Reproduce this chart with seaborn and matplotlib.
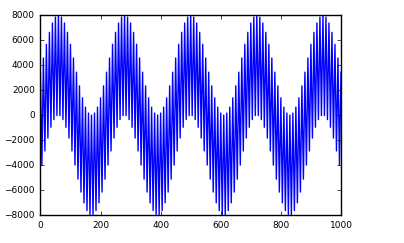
import matplotlib
matplotlib.use("Agg")
import matplotlib.pyplot as plt
import seaborn as sns
import numpy as np
import pandas as pd

# Peak (top) value of each fast cycle, read at x = 0, 10, 20, ..., 1000
tops = [
    3431, 4569, 5662, 6620, 7365, 7838,
    8000, 7838, 7365, 6620, 5662, 4569, 3431, 2338, 1380, 635, 162,
    0, 162, 635, 1380, 2338, 3431, 4569, 5662, 6620, 7365, 7838,
    8000, 7838, 7365, 6620, 5662, 4569, 3431, 2338, 1380, 635, 162,
    0, 162, 635, 1380, 2338, 3431, 4569, 5662, 6620, 7365, 7838,
    8000, 7838, 7365, 6620, 5662, 4569, 3431, 2338, 1380, 635, 162,
    0, 162, 635, 1380, 2338, 3431, 4569, 5662, 6620, 7365, 7838,
    8000, 7838, 7365, 6620, 5662, 4569, 3431, 2338, 1380, 635, 162,
    0, 162, 635, 1380, 2338, 3431, 4569, 5662, 6620, 7365, 7838,
    8000, 7838, 7365, 6620, 5662, 4569, 3431,
]

# Trough (bottom) value of each fast cycle, read at x = 5, 15, ..., 995
bottoms = [
    -4000, -2873, -1838, -977, -362, -41,
    -41, -362, -977, -1838, -2873, -4000, -5127, -6162, -7023, -7638, -7959,
    -7959, -7638, -7023, -6162, -5127, -4000, -2873, -1838, -977, -362, -41,
    -41, -362, -977, -1838, -2873, -4000, -5127, -6162, -7023, -7638, -7959,
    -7959, -7638, -7023, -6162, -5127, -4000, -2873, -1838, -977, -362, -41,
    -41, -362, -977, -1838, -2873, -4000, -5127, -6162, -7023, -7638, -7959,
    -7959, -7638, -7023, -6162, -5127, -4000, -2873, -1838, -977, -362, -41,
    -41, -362, -977, -1838, -2873, -4000, -5127, -6162, -7023, -7638, -7959,
    -7959, -7638, -7023, -6162, -5127, -4000, -2873, -1838, -977, -362, -41,
    -41, -362, -977, -1838, -2873, -4000,
]

top_x = np.arange(len(tops)) * 10
bottom_x = np.arange(len(bottoms)) * 10 + 5

xs, ys = [], []
for i in range(len(tops)):
    xs.append(top_x[i]); ys.append(tops[i])
    if i < len(bottoms):
        xs.append(bottom_x[i]); ys.append(bottoms[i])

df = pd.DataFrame({"x": xs, "y": ys})

plt.style.use("classic")
plt.rcParams["font.family"] = ["DejaVu Sans"]

fig = plt.figure(figsize=(4.04, 2.43), dpi=100, facecolor="white")
ax = fig.add_axes([0.1, 0.115, 0.744, 0.823])
sns.lineplot(data=df, x="x", y="y", estimator=None, sort=False,
             color="#0000ff", lw=1.0, ax=ax)
ax.set_xlim(0, 1000)
ax.set_ylim(-8000, 8000)
ax.set_xticks(range(0, 1001, 200))
ax.set_yticks(range(-8000, 8001, 2000))
ax.tick_params(labelsize=6.5, direction="in", top=True, right=True, length=3)
ax.set_xlabel("")
ax.set_ylabel("")
ax.set_facecolor("white")
fig.savefig("out.png", dpi=100, facecolor="white")
